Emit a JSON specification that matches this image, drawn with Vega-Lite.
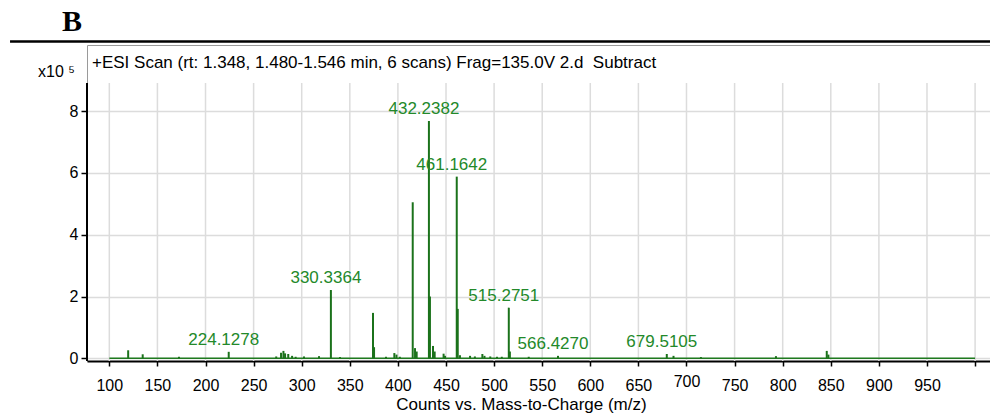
{
  "$schema": "https://vega.github.io/schema/vega-lite/v6.json",
  "width": 903,
  "height": 316,
  "autosize": {"type": "none"},
  "padding": {"left": 87, "top": 45, "right": 0, "bottom": 55},
  "background": "white",
  "config": {
    "view": {"stroke": "#9a9a9a", "strokeWidth": 1},
    "font": "Liberation Sans"
  },
  "title": {
    "text": "B",
    "font": "Liberation Serif",
    "fontSize": 30,
    "fontWeight": "bold",
    "color": "black",
    "anchor": "start",
    "frame": "group",
    "dx": -25,
    "offset": -21,
    "baseline": "alphabetic"
  },
  "datasets": {
    "grid": [
      {"mz": 100}, {"mz": 150}, {"mz": 200}, {"mz": 250}, {"mz": 300},
      {"mz": 350}, {"mz": 400}, {"mz": 450}, {"mz": 500}, {"mz": 550},
      {"mz": 600}, {"mz": 650}, {"mz": 700}, {"mz": 750}, {"mz": 800},
      {"mz": 850}, {"mz": 900}, {"mz": 950}, {"mz": 1000}
    ],
    "peaks": [
      {"mz": 119.6, "intensity": 0.26},
      {"mz": 134.7, "intensity": 0.13},
      {"mz": 172.4, "intensity": 0.05},
      {"mz": 224.1278, "intensity": 0.21, "label": "224.1278"},
      {"mz": 273.5, "intensity": 0.06},
      {"mz": 278.5, "intensity": 0.18},
      {"mz": 281.0, "intensity": 0.24},
      {"mz": 282.7, "intensity": 0.16},
      {"mz": 286.0, "intensity": 0.14},
      {"mz": 290.0, "intensity": 0.08},
      {"mz": 293.7, "intensity": 0.05},
      {"mz": 302.4, "intensity": 0.06},
      {"mz": 318.0, "intensity": 0.07},
      {"mz": 330.3364, "intensity": 2.21, "label": "330.3364"},
      {"mz": 339.8, "intensity": 0.04},
      {"mz": 374.1, "intensity": 1.47},
      {"mz": 375.2, "intensity": 0.36},
      {"mz": 387.6, "intensity": 0.05},
      {"mz": 396.3, "intensity": 0.17},
      {"mz": 398.5, "intensity": 0.12},
      {"mz": 402.0, "intensity": 0.05},
      {"mz": 415.4, "intensity": 5.05},
      {"mz": 417.8, "intensity": 0.33},
      {"mz": 419.5, "intensity": 0.22},
      {"mz": 432.2382, "intensity": 7.68, "label": "432.2382"},
      {"mz": 433.3, "intensity": 2.0},
      {"mz": 436.5, "intensity": 0.4},
      {"mz": 438.2, "intensity": 0.22},
      {"mz": 447.5, "intensity": 0.15},
      {"mz": 449.0, "intensity": 0.08},
      {"mz": 461.1642, "intensity": 5.88, "label": "461.1642"},
      {"mz": 462.2, "intensity": 1.6},
      {"mz": 464.5, "intensity": 0.1},
      {"mz": 475.0, "intensity": 0.08},
      {"mz": 480.0, "intensity": 0.06},
      {"mz": 487.8, "intensity": 0.14},
      {"mz": 490.0, "intensity": 0.08},
      {"mz": 496.0, "intensity": 0.06},
      {"mz": 503.0, "intensity": 0.05},
      {"mz": 508.0, "intensity": 0.05},
      {"mz": 515.2751, "intensity": 1.64, "label": "515.2751"},
      {"mz": 516.4, "intensity": 0.22},
      {"mz": 536.0, "intensity": 0.05},
      {"mz": 566.427, "intensity": 0.08, "label": "566.4270"},
      {"mz": 679.5105, "intensity": 0.14, "label": "679.5105"},
      {"mz": 686.5, "intensity": 0.08},
      {"mz": 715.0, "intensity": 0.04},
      {"mz": 793.0, "intensity": 0.07},
      {"mz": 845.8, "intensity": 0.24},
      {"mz": 847.5, "intensity": 0.12}
    ]
  },
  "layer": [
    {
      "data": {"name": "grid"},
      "mark": {"type": "rule", "color": "#dcdcdc", "strokeWidth": 1.5},
      "encoding": {
        "x": {
          "field": "mz",
          "type": "quantitative",
          "scale": {"domain": [76.8, 1015.5], "nice": false, "zero": false},
          "axis": {
            "values": [100, 150, 200, 250, 300, 350, 400, 450, 500, 550, 600, 650, 700, 750, 800, 850, 900, 950, 1000],
            "labelExpr": "datum.value == 1000 ? '' : datum.label",
            "grid": false,
            "domain": true,
            "domainColor": "black",
            "domainWidth": 2,
            "ticks": true,
            "tickColor": "black",
            "tickWidth": 1.5,
            "tickSize": 5,
            "labelFont": "Liberation Sans",
            "labelFontSize": 16,
            "labelColor": "black",
            "labelPadding": {"condition": {"test": "datum.value == 700", "value": 7}, "value": 11},
            "title": "Counts vs. Mass-to-Charge (m/z)",
            "titleFont": "Liberation Sans",
            "titleFontSize": 17,
            "titleFontWeight": "normal",
            "titleColor": "black",
            "titleX": 434,
            "titleY": 43,
            "titleAnchor": "middle",
            "titleBaseline": "middle"
          }
        },
        "y": {"datum": -0.087, "type": "quantitative"},
        "y2": {"datum": 8.91}
      }
    },
    {
      "data": {"values": [{}]},
      "mark": {"type": "rule", "color": "black", "strokeWidth": 2},
      "encoding": {
        "x": {"datum": 76.8, "type": "quantitative"},
        "y": {
          "datum": -0.087,
          "type": "quantitative",
          "scale": {"domain": [-0.087, 10.14], "nice": false, "zero": false},
          "axis": {
            "values": [0, 2, 4, 6, 8],
            "grid": true,
            "gridColor": "#dcdcdc",
            "gridWidth": 1.5,
            "domain": false,
            "ticks": true,
            "tickColor": "black",
            "tickWidth": 1.5,
            "tickSize": 6,
            "labelFont": "Liberation Sans",
            "labelFontSize": 16,
            "labelColor": "black",
            "labelPadding": 3,
            "title": "x10 \u2075",
            "titleFont": "Liberation Sans",
            "titleFontSize": 16,
            "titleFontWeight": "normal",
            "titleColor": "black",
            "titleAngle": 0,
            "titleX": -31,
            "titleY": 26,
            "titleAlign": "center",
            "titleBaseline": "middle"
          }
        },
        "y2": {"datum": 8.91}
      }
    },
    {
      "data": {"values": [{}]},
      "mark": {"type": "rule", "color": "black", "strokeWidth": 2.5, "clip": false},
      "encoding": {
        "x": {"datum": -3.2, "type": "quantitative"},
        "x2": {"datum": 1015.5},
        "y": {"datum": 10.25, "type": "quantitative"}
      }
    },
    {
      "data": {"values": [{}]},
      "mark": {"type": "rule", "color": "#1e7a1e", "strokeWidth": 1.5},
      "encoding": {
        "x": {"datum": 100, "type": "quantitative"},
        "x2": {"datum": 1000},
        "y": {"datum": 0, "type": "quantitative"}
      }
    },
    {
      "data": {"name": "peaks"},
      "mark": {"type": "rule", "color": "#1b721b", "strokeWidth": 2},
      "encoding": {
        "x": {"field": "mz", "type": "quantitative"},
        "y": {"field": "intensity", "type": "quantitative"},
        "y2": {"datum": 0}
      }
    },
    {
      "data": {"name": "peaks"},
      "transform": [{"filter": "isValid(datum.label)"}],
      "mark": {"type": "text", "color": "#23892a", "font": "Liberation Sans", "fontSize": 17, "baseline": "alphabetic", "align": "center", "dx": -5, "dy": -7},
      "encoding": {
        "x": {"field": "mz", "type": "quantitative"},
        "y": {"field": "intensity", "type": "quantitative"},
        "text": {"field": "label"}
      }
    },
    {
      "data": {"values": [{}]},
      "mark": {"type": "text", "color": "black", "font": "Liberation Sans", "fontSize": 17, "baseline": "middle", "align": "left", "dx": 5},
      "encoding": {
        "x": {"datum": 76.8, "type": "quantitative"},
        "y": {"datum": 9.557, "type": "quantitative"},
        "text": {"value": "+ESI Scan (rt: 1.348, 1.480-1.546 min, 6 scans) Frag=135.0V 2.d\u00a0 Subtract"}
      }
    }
  ]
}
